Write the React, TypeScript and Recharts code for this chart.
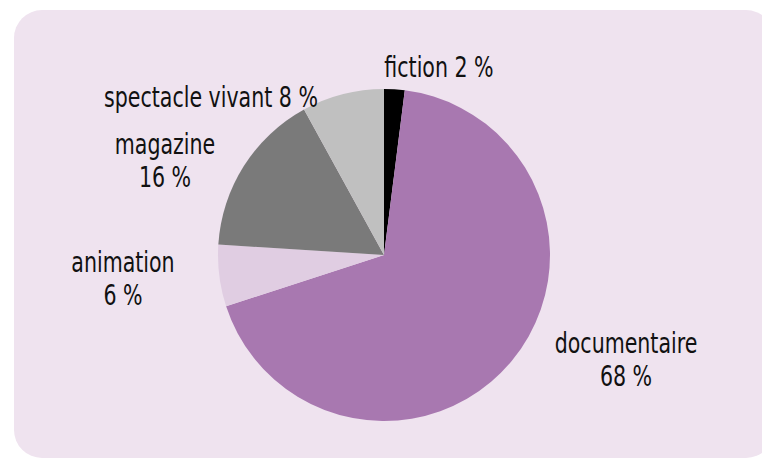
import React from 'react';
import { PieChart, Pie, Cell } from 'recharts';

// genre split, in %
const GENRES = ['fiction', 'documentaire', 'animation', 'magazine', 'spectacle vivant'];
const SHARES = [2, 68, 6, 16, 8];
const COLORS = ['#000000', '#a878b0', '#e0cde2', '#7a7a7a', '#c0c0c0'];

// label anchor (centre x, first baseline) relative to the pie centre
const LABEL_OFFSETS = [
  [55, -178],
  [242, 98],
  [-261, 17],
  [-219, -101],
  [-173, -148],
];
const TWO_LINES = [false, true, true, true, false];
const LINE_GAP = 33;
// the source font is narrow and tall, so squeeze the condensed face a bit
const SQUEEZE = 0.816;

const data = GENRES.map((name, i) => ({ name, value: SHARES[i] }));

const FONT = '"DejaVu Sans Condensed", "DejaVu Sans", sans-serif';

const renderLabel = (props: any) => {
  const { cx, cy, index, name, value } = props;
  const [dx, dy] = LABEL_OFFSETS[index];
  const x = cx + dx;
  const y = cy + dy;
  return (
    <g transform={`translate(${x},${y}) scale(${SQUEEZE},1)`}>
      {TWO_LINES[index] ? (
        <text x={0} y={0} textAnchor="middle" fill="#111111" fontSize={28} fontFamily={FONT}>
          <tspan x={0} y={0}>{name}</tspan>
          <tspan x={0} y={LINE_GAP}>{value} %</tspan>
        </text>
      ) : (
        <text x={0} y={0} textAnchor="middle" fill="#111111" fontSize={28} fontFamily={FONT}>
          {name} {value} %
        </text>
      )}
    </g>
  );
};

export default function App() {
  return (
    <div style={{ position: 'absolute', left: 0, top: 0, width: 762, height: 459, overflow: 'hidden', background: '#ffffff' }}>
      <div
        style={{
          position: 'absolute',
          left: 14,
          top: 10,
          width: 760,
          height: 448,
          borderRadius: 28,
          background: '#efe3ef',
        }}
      />
      <div style={{ position: 'absolute', left: 0, top: 0 }}>
        <PieChart width={762} height={459} margin={{ top: 0, right: 0, bottom: 0, left: 0 }}>
          <Pie
            data={data}
            dataKey="value"
            nameKey="name"
            cx={384}
            cy={255}
            outerRadius={166}
            startAngle={90}
            endAngle={-270}
            stroke="none"
            label={renderLabel}
            labelLine={false}
            isAnimationActive={false}
          >
            {data.map((d, i) => (
              <Cell key={d.name} fill={COLORS[i]} />
            ))}
          </Pie>
        </PieChart>
      </div>
    </div>
  );
}
